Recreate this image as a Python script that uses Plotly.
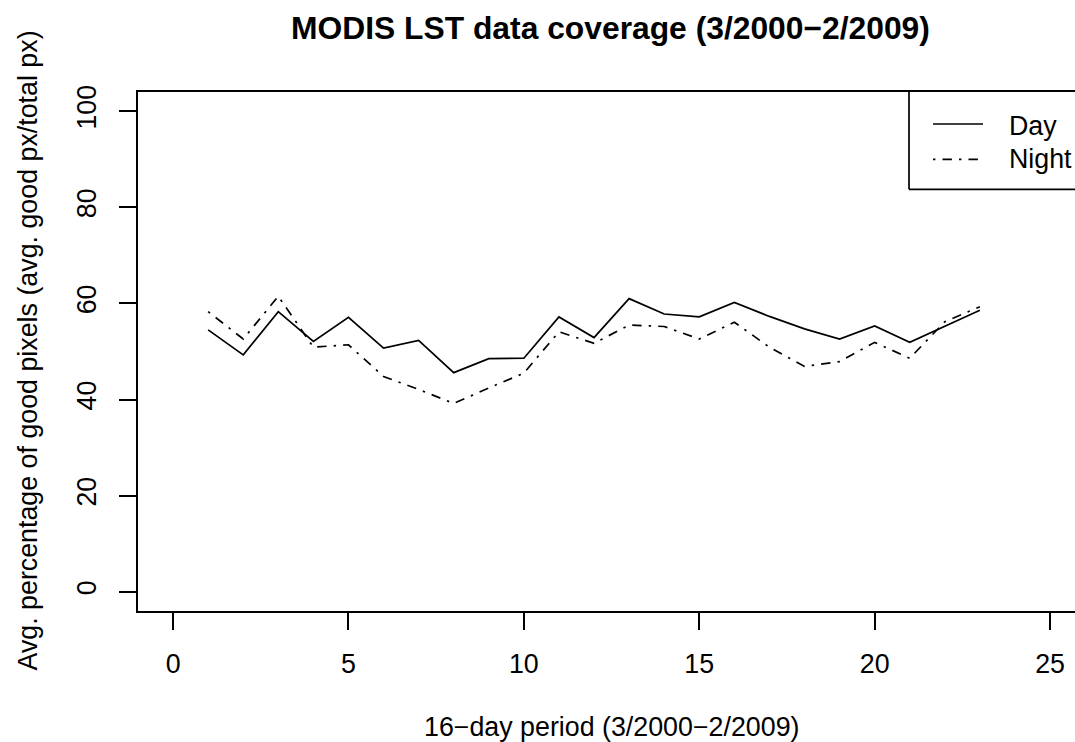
import plotly.graph_objects as go

periods = list(range(1, 24))
day = [54.5, 49.3, 58.3, 52.1, 57.1, 50.7, 52.3, 45.6, 48.5, 48.6, 57.2, 52.9,
       61.0, 57.8, 57.2, 60.2, 57.3, 54.7, 52.6, 55.3, 51.9, 55.2, 58.6]
night = [58.3, 52.6, 61.5, 50.9, 51.4, 44.8, 42.1, 39.2, 42.4, 45.5, 54.1, 51.7,
         55.5, 55.2, 52.6, 56.1, 50.9, 46.9, 47.9, 51.9, 48.6, 56.2, 59.3]
x_ticks = [0, 5, 10, 15, 20, 25]
y_ticks = [0, 20, 40, 60, 80, 100]

W, H = 1075, 742
L, T, B = 138, 92, 131
PW, PH = W - L, H - T - B
FONT = "Liberation Sans, Arial, Helvetica, sans-serif"
FS = 26.8
LW = 1.7
DASH = "2.4px,7.1px,9.4px,7.1px"


def px(xp):
    return (xp - L) / PW


def py(yp):
    return (T + PH - yp) / PH


fig = go.Figure()
fig.add_trace(go.Scatter(x=periods, y=day, mode="lines", name="Day",
                         line=dict(color="black", width=LW)))
fig.add_trace(go.Scatter(x=periods, y=night, mode="lines", name="Night",
                         line=dict(color="black", width=LW, dash=DASH)))

axis_common = dict(showgrid=False, zeroline=False, showline=True, linecolor="black",
                   linewidth=LW, ticks="outside", ticklen=17, tickwidth=LW,
                   tickcolor="black", tickfont=dict(family=FONT, size=FS, color="black"))

fig.update_xaxes(range=[-1, (W - 173.3) / 35.07], tickvals=x_ticks,
                 ticktext=[str(v) for v in x_ticks], mirror=True,
                 ticklabelstandoff=11, **axis_common)
fig.update_yaxes(range=[-4, 104], tickvals=y_ticks,
                 ticktext=[str(v) for v in y_ticks], tickangle=-90,
                 ticklabelstandoff=12, **axis_common)

annotations = [
    dict(text="<b>MODIS LST data coverage (3/2000\u22122/2009)</b>", xref="paper", yref="paper",
         x=px(610), y=py(28), xanchor="center", yanchor="middle", showarrow=False,
         font=dict(family=FONT, size=31.8, color="black")),
    dict(text="16\u2212day period (3/2000\u22122/2009)", xref="paper", yref="paper",
         x=px(611.5), y=py(727), xanchor="center", yanchor="middle", showarrow=False,
         font=dict(family=FONT, size=FS, color="black")),
    dict(text="Avg. percentage of good pixels (avg. good px/total px)", xref="paper", yref="paper",
         x=px(27), y=py(350.5), xanchor="center", yanchor="middle", showarrow=False,
         textangle=-90, font=dict(family=FONT, size=FS, color="black")),
    dict(text="Day", xref="paper", yref="paper", x=px(1007), y=py(126),
         xanchor="left", yanchor="middle", showarrow=False,
         font=dict(family=FONT, size=FS, color="black")),
    dict(text="Night", xref="paper", yref="paper", x=px(1007), y=py(159),
         xanchor="left", yanchor="middle", showarrow=False,
         font=dict(family=FONT, size=FS, color="black")),
]

shapes = [
    dict(type="line", xref="paper", yref="paper", x0=px(909), x1=px(909), y0=py(92), y1=py(189.3),
         line=dict(color="black", width=LW)),
    dict(type="line", xref="paper", yref="paper", x0=px(909), x1=1.0, y0=py(189.3), y1=py(189.3),
         line=dict(color="black", width=LW)),
    dict(type="line", xref="paper", yref="paper", x0=px(933), x1=px(983), y0=py(124), y1=py(124),
         line=dict(color="black", width=LW)),
    dict(type="line", xref="paper", yref="paper", x0=px(933), x1=px(983), y0=py(159.3), y1=py(159.3),
         line=dict(color="black", width=LW, dash=DASH)),
]

fig.update_layout(width=W, height=H, margin=dict(l=L, r=0, t=T, b=B),
                  paper_bgcolor="white", plot_bgcolor="white", showlegend=False,
                  annotations=annotations, shapes=shapes,
                  font=dict(family=FONT, size=FS, color="black"))

fig.write_html("out.html")
